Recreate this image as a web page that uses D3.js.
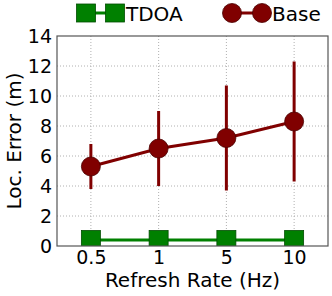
<!DOCTYPE html>
<html>
<head>
<meta charset="utf-8">
<script src="https://cdn.jsdelivr.net/npm/d3@7"></script>
<style>
  body { margin: 0; background: #fff; }
  svg text { font-family: "DejaVu Sans", sans-serif; }
</style>
</head>
<body>
<div id="chart"></div>
<script>
// data
var rates = ["0.5", "1", "5", "10"]
var baseMean = [5.3, 6.5, 7.2, 8.3]
var baseLow = [3.8, 4.0, 3.7, 4.3]
var baseHigh = [6.8, 9.0, 10.7, 12.3]
var tdoaMean = [0.4, 0.4, 0.4, 0.4]
var yTicks = [0, 2, 4, 6, 8, 10, 12, 14]

var W = 332, H = 296
var margin = { top: 36, right: 4, bottom: 50, left: 57 }

var svg = d3.select("#chart").append("svg")
  .attr("width", W).attr("height", H)

var width = W - margin.left - margin.right,
    height = H - margin.top - margin.bottom

svg.append("clipPath").attr("id", "plotclip")
  .append("rect").attr("width", width).attr("height", height)

var g = svg.append("g")
  .attr("transform", "translate(" + margin.left + "," + margin.top + ")")

var x = d3.scalePoint().domain(rates).range([0, width]).padding(0.5)
var y = d3.scaleLinear().domain([0, 14]).range([height, 0])

// grid
g.append("g").selectAll("line").data(yTicks.slice(1, -1)).enter().append("line")
  .attr("x1", 0).attr("x2", width)
  .attr("y1", function(d){ return y(d) }).attr("y2", function(d){ return y(d) })
  .attr("stroke", "#b0b0b0").attr("stroke-width", 1).attr("stroke-dasharray", "1,2")
g.append("g").selectAll("line").data(rates).enter().append("line")
  .attr("x1", function(d){ return x(d) }).attr("x2", function(d){ return x(d) })
  .attr("y1", 0).attr("y2", height)
  .attr("stroke", "#b0b0b0").attr("stroke-width", 1).attr("stroke-dasharray", "1,2")

// axes
var yAxis = g.append("g").call(d3.axisLeft(y).tickValues(yTicks).tickSize(0).tickPadding(5))
var xAxis = g.append("g").attr("transform", "translate(0," + height + ")")
  .call(d3.axisBottom(x).tickSize(0).tickPadding(5))
;[xAxis, yAxis].forEach(function(a){
  a.select(".domain").remove()
  a.selectAll("text").attr("font-size", 19).attr("fill", "#000")
})

var plot = g.append("g").attr("clip-path", "url(#plotclip)")

// base series
var maroon = "#800000"
plot.selectAll(".err").data(rates).enter().append("line")
  .attr("x1", function(d){ return x(d) }).attr("x2", function(d){ return x(d) })
  .attr("y1", function(d, i){ return y(baseLow[i]) })
  .attr("y2", function(d, i){ return y(baseHigh[i]) })
  .attr("stroke", maroon).attr("stroke-width", 3)

var line = d3.line().x(function(d){ return x(d[0]) }).y(function(d){ return y(d[1]) })
plot.append("path").datum(d3.zip(rates, baseMean)).attr("d", line)
  .attr("fill", "none").attr("stroke", maroon).attr("stroke-width", 3)
plot.selectAll(".pt").data(rates).enter().append("circle")
  .attr("cx", function(d){ return x(d) })
  .attr("cy", function(d, i){ return y(baseMean[i]) })
  .attr("r", 9.5).attr("fill", maroon).attr("stroke", "#4a0000").attr("stroke-width", 0.8)

// tdoa series
var green = "#008000"
plot.append("path").datum(d3.zip(rates, tdoaMean)).attr("d", line)
  .attr("fill", "none").attr("stroke", green).attr("stroke-width", 3)
plot.selectAll(".sq").data(rates).enter().append("rect")
  .attr("x", function(d){ return x(d) - 9.5 })
  .attr("y", function(d, i){ return y(tdoaMean[i]) - 9.5 })
  .attr("width", 19).attr("height", 19)
  .attr("fill", green).attr("stroke", "#004d00").attr("stroke-width", 0.8)

g.append("rect").attr("width", width).attr("height", height)
  .attr("fill", "none").attr("stroke", "#555").attr("stroke-width", 1.2)

// axis titles
svg.append("text").attr("x", margin.left + width / 2).attr("y", 287)
  .attr("text-anchor", "middle").attr("font-size", 20).text("Refresh Rate (Hz)")
svg.append("text").attr("transform", "translate(21," + (margin.top + height / 2) + ") rotate(-90)")
  .attr("text-anchor", "middle").attr("font-size", 20).text("Loc. Error (m)")

// legend
var lg = svg.append("g")
lg.append("line").attr("x1", 86).attr("x2", 115).attr("y1", 13).attr("y2", 13)
  .attr("stroke", green).attr("stroke-width", 3)
;[86, 115].forEach(function(cx){
  lg.append("rect").attr("x", cx - 9.5).attr("y", 4).attr("width", 19).attr("height", 18)
    .attr("fill", green).attr("stroke", "#004d00").attr("stroke-width", 0.8)
})
lg.append("text").attr("x", 126).attr("y", 21).attr("font-size", 20).text("TDOA")
lg.append("line").attr("x1", 232).attr("x2", 262).attr("y1", 13).attr("y2", 13)
  .attr("stroke", maroon).attr("stroke-width", 3)
;[232, 262].forEach(function(cx){
  lg.append("circle").attr("cx", cx).attr("cy", 13).attr("r", 9.5)
    .attr("fill", maroon).attr("stroke", "#4a0000").attr("stroke-width", 0.8)
})
lg.append("text").attr("x", 272).attr("y", 21).attr("font-size", 20).text("Base")
</script>
</body>
</html>
